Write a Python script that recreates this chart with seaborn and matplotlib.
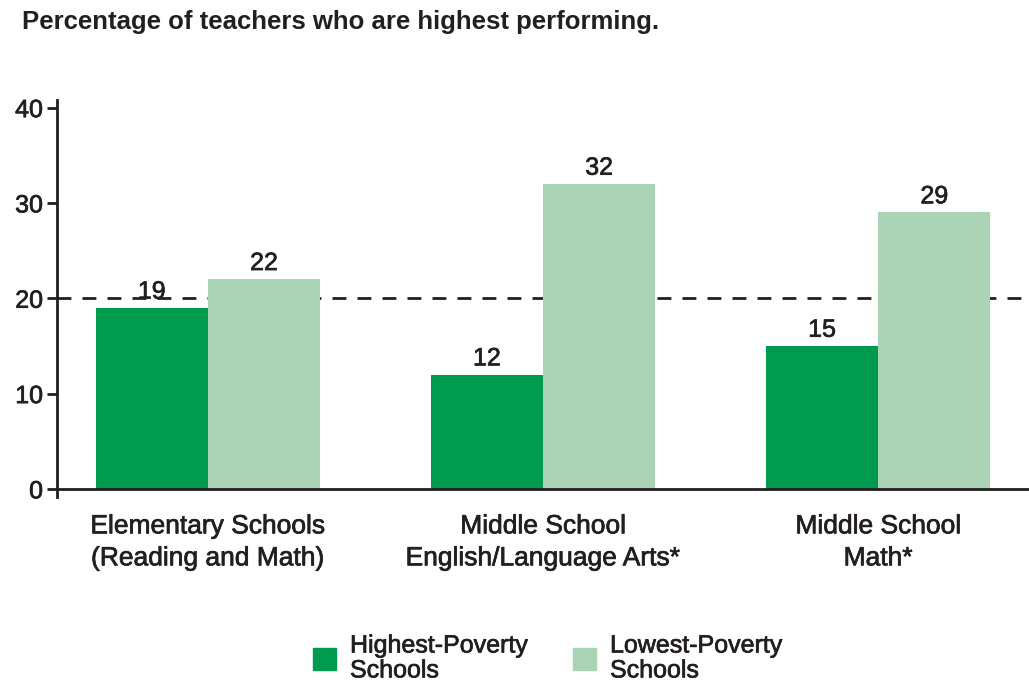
import pandas as pd
import matplotlib
matplotlib.use('Agg')
import matplotlib.pyplot as plt
import matplotlib.patheffects as pe
import seaborn as sns

# 데이터
categories = ['Elementary Schools\n(Reading and Math)',
              'Middle School\nEnglish/Language Arts*',
              'Middle School\nMath*']
groups = ['Highest-Poverty\nSchools', 'Lowest-Poverty\nSchools']
highest_poverty = [19, 12, 15]
lowest_poverty = [22, 32, 29]
yticks = [0, 10, 20, 30, 40]
reference_line = 20

df = pd.DataFrame({
    'category': categories * 2,
    'group': [groups[0]] * 3 + [groups[1]] * 3,
    'value': highest_poverty + lowest_poverty,
})

sns.set_style('white')
plt.rcParams['font.family'] = ['Liberation Sans', 'DejaVu Sans']
ink = '#231f20'
heavy = [pe.withStroke(linewidth=0.5, foreground=ink)]

fig = plt.figure(figsize=(10.29, 6.81), dpi=100)
ax = fig.add_axes([57 / 1029, 1 - 497 / 681, 1 - 57 / 1029, (497 - 100) / 681])

palette = ['#009a4e', '#abd3b5']
sns.barplot(data=df, x='category', y='value', hue='group', palette=palette,
            width=0.67, saturation=1, linewidth=0, ax=ax, legend=False)

for cont in ax.containers:
    for t in ax.bar_label(cont, fmt='%d', fontsize=18, padding=3, color=ink):
        t.set_path_effects(heavy)

ax.axhline(reference_line, color=ink, lw=2, ls=(0, (5, 4)), zorder=0.5)
ax.axhline(0, color=ink, lw=2, zorder=3)

ax.set_xlim(-0.45, 2.45)
ax.set_ylim(-0.85, 40.8)
ax.set_yticks(yticks)
ax.set_xlabel('')
ax.set_ylabel('')
for s in ['top', 'right', 'bottom']:
    ax.spines[s].set_visible(False)
ax.spines['left'].set_color(ink)
ax.spines['left'].set_linewidth(2)
ax.tick_params(axis='y', left=True, length=7, width=2, color=ink,
               labelsize=18, labelcolor=ink, pad=3)
ax.tick_params(axis='x', bottom=False, labelsize=19, labelcolor=ink, pad=9)
for lbl in ax.get_xticklabels():
    lbl.set_linespacing(1.42)
    lbl.set_path_effects(heavy)
for lbl in ax.get_yticklabels():
    lbl.set_path_effects(heavy)

fig.text(22 / 1029, 1 - 22 / 681, 'Percentage of teachers who are highest performing.',
         fontsize=18.5, fontweight='bold', color=ink, va='center', ha='left')

handles = [plt.Rectangle((0, 0), 1, 1, color=c) for c in palette]
leg = fig.legend(handles, groups, loc='upper left', bbox_to_anchor=(290 / 1029, 1 - 611 / 681),
                 ncol=2, frameon=False, fontsize=18, handlelength=0.95, handleheight=0.95,
                 columnspacing=1.8, handletextpad=0.55, labelcolor=ink, labelspacing=0.2)
for t in leg.get_texts():
    t.set_linespacing(1.05)
    t.set_path_effects(heavy)

fig.savefig('out.png', dpi=100)
